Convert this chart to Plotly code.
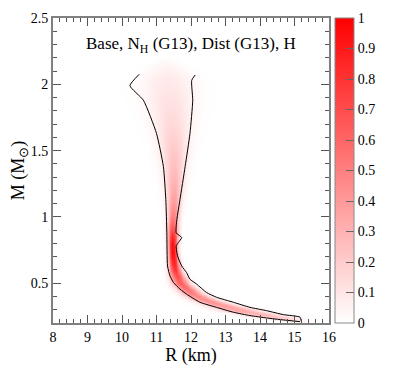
import numpy as np
import plotly.graph_objs as go

# ridge rows: mass, left edge R, right edge R, peak density
row_mass = [0.21, 0.22, 0.23, 0.24, 0.25, 0.26, 0.27, 0.28, 0.29, 0.30, 0.315, 0.33, 0.345,
            0.36, 0.38, 0.40, 0.425, 0.45, 0.475, 0.50, 0.55, 0.60,
            0.65, 0.70, 0.75, 0.80, 0.85, 0.90, 0.95, 1.00, 1.10, 1.20, 1.30, 1.40, 1.50,
            1.60, 1.70, 1.80, 1.90, 2.00, 2.05, 2.10, 2.15, 2.18]
row_left = [15.0, 14.6, 14.25, 14.0, 13.75, 13.55, 13.35, 13.15, 12.95, 12.8, 12.6, 12.45, 12.3,
            12.15, 12.0, 11.85, 11.72, 11.6, 11.52, 11.45, 11.38, 11.35,
            11.34, 11.33, 11.33, 11.32, 11.31, 11.3, 11.3, 11.3, 11.28, 11.25, 11.2, 11.15, 11.08,
            11.0, 10.9, 10.8, 10.65, 10.55, 10.6, 10.7, 10.85, 10.95]
row_right = [15.4, 15.3, 15.2, 15.1, 14.9, 14.7, 14.5, 14.3, 14.1, 13.9, 13.65, 13.4, 13.15,
             12.95, 12.75, 12.55, 12.35, 12.2, 12.07, 11.95, 11.82, 11.72,
             11.66, 11.62, 11.6, 11.6, 11.62, 11.62, 11.63, 11.65, 11.7, 11.75, 11.8, 11.85, 11.9,
             11.95, 12.0, 12.05, 12.1, 12.1, 12.05, 11.95, 11.75, 11.55]
row_peak = [0.08, 0.14, 0.18, 0.22, 0.25, 0.28, 0.3, 0.32, 0.34, 0.36, 0.38, 0.4, 0.42,
            0.44, 0.46, 0.48, 0.52, 0.56, 0.6, 0.65, 0.72, 0.8,
            0.88, 0.95, 0.98, 0.95, 0.85, 0.72, 0.6, 0.5, 0.4, 0.33, 0.28, 0.24, 0.21,
            0.18, 0.15, 0.13, 0.11, 0.09, 0.08, 0.06, 0.04, 0.02]

# black contour, two sides
left_r = [10.50, 10.23, 10.62, 11.00, 11.20, 11.27, 11.30, 11.32, 11.39, 11.49, 11.68,
          11.87, 12.26, 12.74, 13.23, 13.71, 14.19, 14.68, 15.16]
left_m = [2.076, 1.99, 1.88, 1.63, 1.38, 1.13, 0.88, 0.63, 0.556, 0.506, 0.456,
          0.418, 0.356, 0.318, 0.281, 0.256, 0.238, 0.223, 0.21]
right_r = [12.12, 12.02, 12.05, 11.97, 11.83, 11.68, 11.59, 11.57, 11.73, 11.63, 11.57,
           11.61, 11.73, 11.87, 11.97, 12.16, 12.45, 12.74, 13.23, 13.71, 14.19, 14.68,
           15.16, 15.2]
right_m = [2.07, 2.03, 1.88, 1.63, 1.38, 1.13, 0.98, 0.88, 0.844, 0.806, 0.78,
           0.706, 0.63, 0.581, 0.53, 0.494, 0.43, 0.394, 0.356, 0.318, 0.293, 0.263,
           0.244, 0.21]

r_grid = np.arange(9.5, 15.8, 0.05)
z = []
for lo, hi, pk in zip(row_left, row_right, row_peak):
    c = (lo + hi) / 2
    s = (hi - lo) / 2.2
    z.append(pk * np.exp(-((r_grid - c) / s) ** 2))
z = np.array(z)

serif = 'Liberation Serif, Times New Roman, serif'

data = [go.Heatmap(x=r_grid, y=row_mass, z=z, zmin=0, zmax=1,
                   colorscale=[[0, 'white'], [1, 'red']],
                   zsmooth='best',
                   colorbar=dict(x=1.022, xanchor='left', y=0.5, len=1.0,
                                 thickness=19, outlinecolor='#888888', outlinewidth=1,
                                 ticks='inside', ticklen=8, tickcolor='#666666',
                                 tickvals=[0, 0.1, 0.2, 0.3, 0.4, 0.5, 0.6, 0.7, 0.8, 0.9, 1],
                                 ticktext=['0', '0.1', '0.2', '0.3', '0.4', '0.5', '0.6',
                                           '0.7', '0.8', '0.9', '1'],
                                 tickfont=dict(family=serif, size=14, color='black'),
                                 xpad=0, ypad=0)),
        go.Scatter(x=left_r, y=left_m, mode='lines',
                   line=dict(color='black', width=1, shape='spline', smoothing=0.5),
                   showlegend=False),
        go.Scatter(x=right_r, y=right_m, mode='lines',
                   line=dict(color='black', width=1, shape='spline', smoothing=0.5),
                   showlegend=False)]

axis_common = dict(showgrid=False, zeroline=False, showline=True, linecolor='#808080',
                   linewidth=2, mirror='ticks', ticks='inside', ticklen=8,
                   tickcolor='#555555', automargin=False,
                   tickfont=dict(family=serif, size=14, color='black'))

# page body has an 8px margin, so the figure is a little smaller than the window
layout = go.Layout(width=399, height=360,
                   margin=dict(l=45, r=78, t=10, b=45),
                   paper_bgcolor='white', plot_bgcolor='white',
                   font=dict(family=serif, color='black'),
                   xaxis=dict(range=[8, 16], dtick=1,
                              minor=dict(dtick=0.2, ticks='inside', ticklen=4,
                                         tickcolor='#555555'),
                              title=dict(text='R (km)', standoff=0,
                                         font=dict(family=serif, size=18)),
                              **axis_common),
                   yaxis=dict(range=[0.2, 2.5], tickvals=[0.5, 1, 1.5, 2, 2.5],
                              ticktext=['0.5', '1', '1.5', '2', '2.5'],
                              minor=dict(dtick=0.1, ticks='inside', ticklen=4,
                                         tickcolor='#555555'),
                              title=dict(text='M (M<sub>\u2299</sub>)', standoff=2,
                                         font=dict(family=serif, size=18)),
                              **axis_common),
                   annotations=[dict(x=0.5, y=0.955, xref='paper', yref='paper',
                                     text='Base, N<sub>H</sub> (G13), Dist (G13), H',
                                     showarrow=False,
                                     font=dict(family=serif, size=17, color='black'))])

fig = go.Figure(data=data, layout=layout)
fig.write_html("out.html")
